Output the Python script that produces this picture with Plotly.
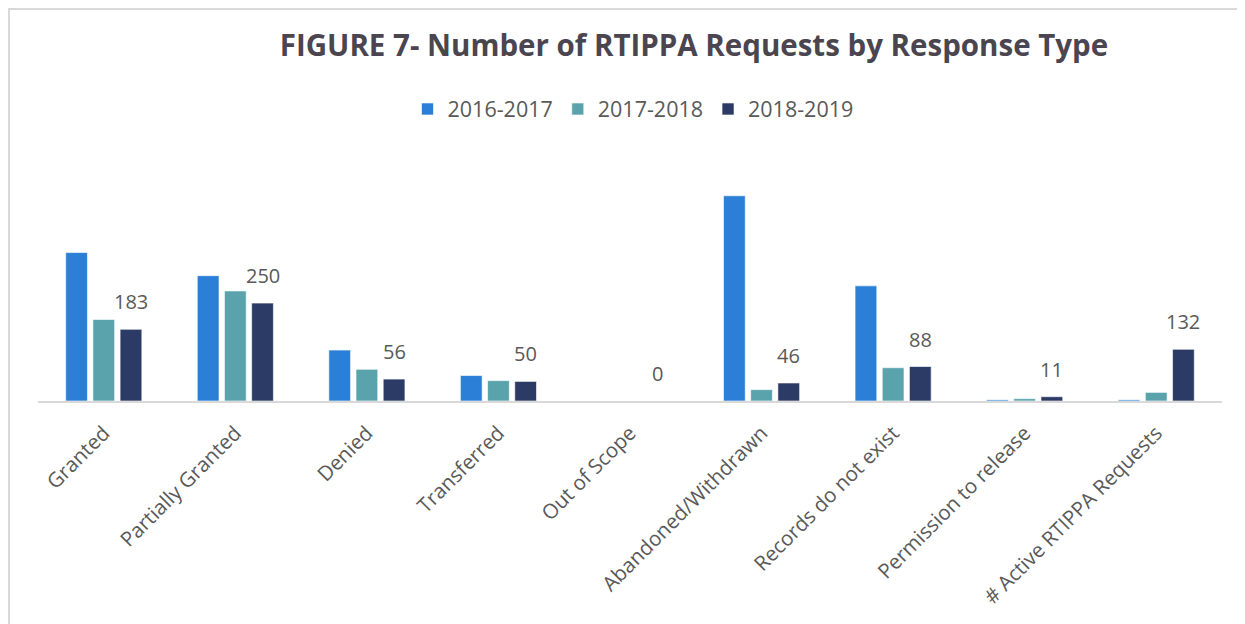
import plotly.graph_objects as go

categories = ["Granted", "Partially Granted", "Denied", "Transferred", "Out of Scope",
              "Abandoned/Withdrawn", "Records do not exist", "Permission to release",
              "# Active RTIPPA Requests"]
series_names = ["2016-2017", "2017-2018", "2018-2019"]
v2016 = [379, 320, 130, 65, 0, 524, 294, 3, 3]
v2017 = [208, 281, 81, 52, 0, 29, 85, 6, 22]
v2018 = [183, 250, 56, 50, 0, 46, 88, 11, 132]
colors = ["#2B7FD7", "#5AA3AD", "#2C3B65"]

W, H = 1245, 624
ml, mr, mt, mb = 30, 31, 158, 231
bargap, bargroupgap = 0.38, 0.2
pw = W - ml - mr
ph = H - mt - mb


def px(fx):
    return (fx - ml) / pw


def py(fy):
    return (H - mb - fy) / ph


fig = go.Figure()
for name, vals, col in zip(series_names, [v2016, v2017, v2018], colors):
    fig.add_trace(go.Bar(x=categories, y=vals, name=name,
                         marker=dict(color=col, line=dict(color="rgba(255,255,255,0.6)", width=1))))

slot = (1 - bargap) / 3
for i, v in enumerate(v2018):
    fig.add_annotation(x=i + slot, y=v, xref="x", yref="y", text=str(v), showarrow=False,
                       yanchor="bottom", yshift=12,
                       font=dict(family="Open Sans", size=20, color="#595959"))

fig.add_shape(type="line", xref="paper", yref="paper",
              x0=px(1), x1=px(1), y0=py(0), y1=py(H + 10),
              line=dict(color="#d9d9d9", width=2))
fig.add_shape(type="line", xref="paper", yref="paper",
              x0=px(0), x1=px(W + 10), y0=py(1), y1=py(1),
              line=dict(color="#d9d9d9", width=2))

fig.update_layout(
    width=W, height=H,
    margin=dict(l=ml, r=mr, t=mt, b=mb, autoexpand=False),
    paper_bgcolor="white", plot_bgcolor="white",
    barmode="group", bargap=bargap, bargroupgap=bargroupgap,
    title=dict(text="<b>FIGURE 7- Number of RTIPPA Requests by Response Type</b>",
               x=686 / W, xanchor="center",
               y=1 - 38 / H, yanchor="middle",
               font=dict(family="Open Sans", size=29.5, color="#4B4550")),
    legend=dict(orientation="h", x=px(625), xanchor="center",
                y=py(101), yanchor="middle",
                font=dict(family="Open Sans", size=21.5, color="#595959"),
                itemwidth=30, tracegroupgap=0),
    showlegend=True,
    xaxis=dict(showline=True, linecolor="#d9d9d9", linewidth=2, tickangle=-45,
               ticks="outside", ticklen=10, tickcolor="rgba(0,0,0,0)",
               tickfont=dict(family="Open Sans", size=20.5, color="#595959"),
               showgrid=False, automargin=False),
    yaxis=dict(range=[0, 600], showgrid=False, showticklabels=False, zeroline=False,
               showline=False),
)

fig.write_html("out.html")
